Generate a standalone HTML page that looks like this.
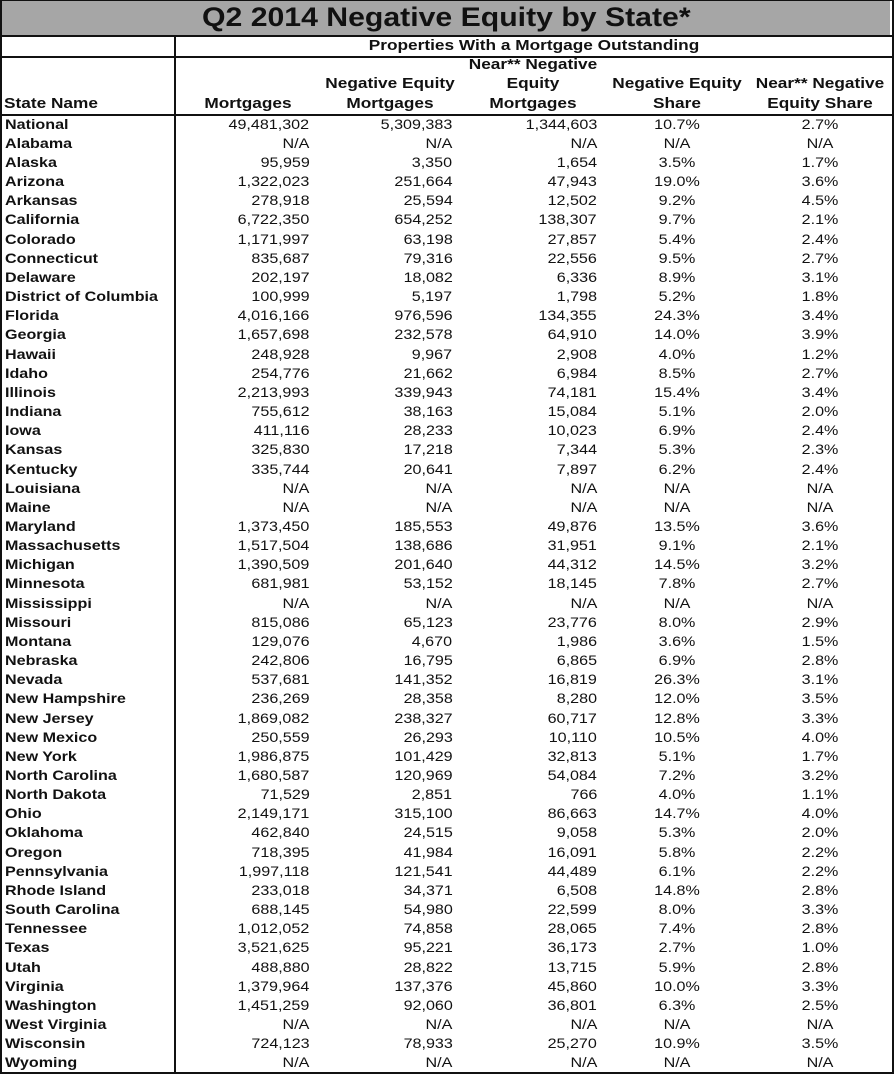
<!DOCTYPE html>
<html>
<head>
<meta charset="utf-8">
<style>
  html, body { margin:0; padding:0; background:#fff; }
  body { width:894px; height:1076px; position:relative; overflow:hidden;
         font-family:"Liberation Sans", Arial, sans-serif; color:#111; }
  .box { position:absolute; left:0; top:0; width:890px; height:1071px; border:2px solid #111; border-top-width:1px; }
  .title { position:absolute; left:2px; top:1px; width:888px; height:34px; background:#a6a6a6; }
  .hl { position:absolute; background:#111; }
  .tt { position:absolute; left:0; top:0; width:892px; height:35px; line-height:35px; text-align:center;
        font-weight:bold; font-size:26.5px; }
  .tt span { display:inline-block; transform:scaleX(1.14); transform-origin:center; }
  .h { position:absolute; width:240px; height:19px; line-height:19px; font-size:15px; font-weight:bold;
       text-align:center; white-space:nowrap; transform:scaleX(1.15); transform-origin:center; }
  .hl2 { position:absolute; height:19px; line-height:19px; font-size:15px; font-weight:bold; white-space:nowrap;
         transform:scaleX(1.15); transform-origin:left center; }
  #d { position:absolute; left:0; top:114.7px; width:894px; }
  .r { position:relative; height:19.16px; line-height:19.16px; font-size:14px; white-space:nowrap; }
  .r b, .r i { position:absolute; top:0; font-style:normal; display:block; }
  .r b { left:4.5px; font-weight:bold; transform:scaleX(1.15); transform-origin:left center; }
  .r i { transform:scaleX(1.15); }
  .r .a { right:584.5px; transform-origin:right center; }
  .r .b { right:441.5px; transform-origin:right center; }
  .r .c { right:297px; transform-origin:right center; }
  .r .d { left:577px; width:200px; text-align:center; transform-origin:center; }
  .r .e { left:720px; width:200px; text-align:center; transform-origin:center; }
</style>
</head>
<body>
<div class="title"></div>
<div class="box"></div>
<div class="tt"><span>Q2 2014 Negative Equity by State*</span></div>
<div class="hl" style="left:0;top:34.5px;width:892px;height:2px;"></div>
<div class="hl" style="left:174px;top:55.5px;width:718px;height:2px;"></div>
<div class="hl" style="left:0;top:55.5px;width:176px;height:2px;"></div>
<div class="hl" style="left:0;top:113.5px;width:892px;height:2px;"></div>
<div class="hl" style="left:174px;top:35px;width:2px;height:1038px;"></div>

<div class="h" style="left:233.5px;top:36px;width:600px;">Properties With a Mortgage Outstanding</div>

<div class="h" style="left:413px;top:55.3px;">Near** Negative</div>

<div class="h" style="left:270px;top:74.3px;">Negative Equity</div>
<div class="h" style="left:413px;top:74.3px;">Equity</div>
<div class="h" style="left:557px;top:74.3px;">Negative Equity</div>
<div class="h" style="left:700px;top:74.3px;">Near** Negative</div>

<div class="hl2" style="left:4px;top:93.6px;">State Name</div>
<div class="h" style="left:127.5px;top:93.6px;">Mortgages</div>
<div class="h" style="left:270px;top:93.6px;">Mortgages</div>
<div class="h" style="left:413px;top:93.6px;">Mortgages</div>
<div class="h" style="left:557px;top:93.6px;">Share</div>
<div class="h" style="left:700px;top:93.6px;">Equity Share</div>

<div id="d">
<div class="r"><b>National</b><i class="a">49,481,302</i><i class="b">5,309,383</i><i class="c">1,344,603</i><i class="d">10.7%</i><i class="e">2.7%</i></div>
<div class="r"><b>Alabama</b><i class="a">N/A</i><i class="b">N/A</i><i class="c">N/A</i><i class="d">N/A</i><i class="e">N/A</i></div>
<div class="r"><b>Alaska</b><i class="a">95,959</i><i class="b">3,350</i><i class="c">1,654</i><i class="d">3.5%</i><i class="e">1.7%</i></div>
<div class="r"><b>Arizona</b><i class="a">1,322,023</i><i class="b">251,664</i><i class="c">47,943</i><i class="d">19.0%</i><i class="e">3.6%</i></div>
<div class="r"><b>Arkansas</b><i class="a">278,918</i><i class="b">25,594</i><i class="c">12,502</i><i class="d">9.2%</i><i class="e">4.5%</i></div>
<div class="r"><b>California</b><i class="a">6,722,350</i><i class="b">654,252</i><i class="c">138,307</i><i class="d">9.7%</i><i class="e">2.1%</i></div>
<div class="r"><b>Colorado</b><i class="a">1,171,997</i><i class="b">63,198</i><i class="c">27,857</i><i class="d">5.4%</i><i class="e">2.4%</i></div>
<div class="r"><b>Connecticut</b><i class="a">835,687</i><i class="b">79,316</i><i class="c">22,556</i><i class="d">9.5%</i><i class="e">2.7%</i></div>
<div class="r"><b>Delaware</b><i class="a">202,197</i><i class="b">18,082</i><i class="c">6,336</i><i class="d">8.9%</i><i class="e">3.1%</i></div>
<div class="r"><b>District of Columbia</b><i class="a">100,999</i><i class="b">5,197</i><i class="c">1,798</i><i class="d">5.2%</i><i class="e">1.8%</i></div>
<div class="r"><b>Florida</b><i class="a">4,016,166</i><i class="b">976,596</i><i class="c">134,355</i><i class="d">24.3%</i><i class="e">3.4%</i></div>
<div class="r"><b>Georgia</b><i class="a">1,657,698</i><i class="b">232,578</i><i class="c">64,910</i><i class="d">14.0%</i><i class="e">3.9%</i></div>
<div class="r"><b>Hawaii</b><i class="a">248,928</i><i class="b">9,967</i><i class="c">2,908</i><i class="d">4.0%</i><i class="e">1.2%</i></div>
<div class="r"><b>Idaho</b><i class="a">254,776</i><i class="b">21,662</i><i class="c">6,984</i><i class="d">8.5%</i><i class="e">2.7%</i></div>
<div class="r"><b>Illinois</b><i class="a">2,213,993</i><i class="b">339,943</i><i class="c">74,181</i><i class="d">15.4%</i><i class="e">3.4%</i></div>
<div class="r"><b>Indiana</b><i class="a">755,612</i><i class="b">38,163</i><i class="c">15,084</i><i class="d">5.1%</i><i class="e">2.0%</i></div>
<div class="r"><b>Iowa</b><i class="a">411,116</i><i class="b">28,233</i><i class="c">10,023</i><i class="d">6.9%</i><i class="e">2.4%</i></div>
<div class="r"><b>Kansas</b><i class="a">325,830</i><i class="b">17,218</i><i class="c">7,344</i><i class="d">5.3%</i><i class="e">2.3%</i></div>
<div class="r"><b>Kentucky</b><i class="a">335,744</i><i class="b">20,641</i><i class="c">7,897</i><i class="d">6.2%</i><i class="e">2.4%</i></div>
<div class="r"><b>Louisiana</b><i class="a">N/A</i><i class="b">N/A</i><i class="c">N/A</i><i class="d">N/A</i><i class="e">N/A</i></div>
<div class="r"><b>Maine</b><i class="a">N/A</i><i class="b">N/A</i><i class="c">N/A</i><i class="d">N/A</i><i class="e">N/A</i></div>
<div class="r"><b>Maryland</b><i class="a">1,373,450</i><i class="b">185,553</i><i class="c">49,876</i><i class="d">13.5%</i><i class="e">3.6%</i></div>
<div class="r"><b>Massachusetts</b><i class="a">1,517,504</i><i class="b">138,686</i><i class="c">31,951</i><i class="d">9.1%</i><i class="e">2.1%</i></div>
<div class="r"><b>Michigan</b><i class="a">1,390,509</i><i class="b">201,640</i><i class="c">44,312</i><i class="d">14.5%</i><i class="e">3.2%</i></div>
<div class="r"><b>Minnesota</b><i class="a">681,981</i><i class="b">53,152</i><i class="c">18,145</i><i class="d">7.8%</i><i class="e">2.7%</i></div>
<div class="r"><b>Mississippi</b><i class="a">N/A</i><i class="b">N/A</i><i class="c">N/A</i><i class="d">N/A</i><i class="e">N/A</i></div>
<div class="r"><b>Missouri</b><i class="a">815,086</i><i class="b">65,123</i><i class="c">23,776</i><i class="d">8.0%</i><i class="e">2.9%</i></div>
<div class="r"><b>Montana</b><i class="a">129,076</i><i class="b">4,670</i><i class="c">1,986</i><i class="d">3.6%</i><i class="e">1.5%</i></div>
<div class="r"><b>Nebraska</b><i class="a">242,806</i><i class="b">16,795</i><i class="c">6,865</i><i class="d">6.9%</i><i class="e">2.8%</i></div>
<div class="r"><b>Nevada</b><i class="a">537,681</i><i class="b">141,352</i><i class="c">16,819</i><i class="d">26.3%</i><i class="e">3.1%</i></div>
<div class="r"><b>New Hampshire</b><i class="a">236,269</i><i class="b">28,358</i><i class="c">8,280</i><i class="d">12.0%</i><i class="e">3.5%</i></div>
<div class="r"><b>New Jersey</b><i class="a">1,869,082</i><i class="b">238,327</i><i class="c">60,717</i><i class="d">12.8%</i><i class="e">3.3%</i></div>
<div class="r"><b>New Mexico</b><i class="a">250,559</i><i class="b">26,293</i><i class="c">10,110</i><i class="d">10.5%</i><i class="e">4.0%</i></div>
<div class="r"><b>New York</b><i class="a">1,986,875</i><i class="b">101,429</i><i class="c">32,813</i><i class="d">5.1%</i><i class="e">1.7%</i></div>
<div class="r"><b>North Carolina</b><i class="a">1,680,587</i><i class="b">120,969</i><i class="c">54,084</i><i class="d">7.2%</i><i class="e">3.2%</i></div>
<div class="r"><b>North Dakota</b><i class="a">71,529</i><i class="b">2,851</i><i class="c">766</i><i class="d">4.0%</i><i class="e">1.1%</i></div>
<div class="r"><b>Ohio</b><i class="a">2,149,171</i><i class="b">315,100</i><i class="c">86,663</i><i class="d">14.7%</i><i class="e">4.0%</i></div>
<div class="r"><b>Oklahoma</b><i class="a">462,840</i><i class="b">24,515</i><i class="c">9,058</i><i class="d">5.3%</i><i class="e">2.0%</i></div>
<div class="r"><b>Oregon</b><i class="a">718,395</i><i class="b">41,984</i><i class="c">16,091</i><i class="d">5.8%</i><i class="e">2.2%</i></div>
<div class="r"><b>Pennsylvania</b><i class="a">1,997,118</i><i class="b">121,541</i><i class="c">44,489</i><i class="d">6.1%</i><i class="e">2.2%</i></div>
<div class="r"><b>Rhode Island</b><i class="a">233,018</i><i class="b">34,371</i><i class="c">6,508</i><i class="d">14.8%</i><i class="e">2.8%</i></div>
<div class="r"><b>South Carolina</b><i class="a">688,145</i><i class="b">54,980</i><i class="c">22,599</i><i class="d">8.0%</i><i class="e">3.3%</i></div>
<div class="r"><b>Tennessee</b><i class="a">1,012,052</i><i class="b">74,858</i><i class="c">28,065</i><i class="d">7.4%</i><i class="e">2.8%</i></div>
<div class="r"><b>Texas</b><i class="a">3,521,625</i><i class="b">95,221</i><i class="c">36,173</i><i class="d">2.7%</i><i class="e">1.0%</i></div>
<div class="r"><b>Utah</b><i class="a">488,880</i><i class="b">28,822</i><i class="c">13,715</i><i class="d">5.9%</i><i class="e">2.8%</i></div>
<div class="r"><b>Virginia</b><i class="a">1,379,964</i><i class="b">137,376</i><i class="c">45,860</i><i class="d">10.0%</i><i class="e">3.3%</i></div>
<div class="r"><b>Washington</b><i class="a">1,451,259</i><i class="b">92,060</i><i class="c">36,801</i><i class="d">6.3%</i><i class="e">2.5%</i></div>
<div class="r"><b>West Virginia</b><i class="a">N/A</i><i class="b">N/A</i><i class="c">N/A</i><i class="d">N/A</i><i class="e">N/A</i></div>
<div class="r"><b>Wisconsin</b><i class="a">724,123</i><i class="b">78,933</i><i class="c">25,270</i><i class="d">10.9%</i><i class="e">3.5%</i></div>
<div class="r"><b>Wyoming</b><i class="a">N/A</i><i class="b">N/A</i><i class="c">N/A</i><i class="d">N/A</i><i class="e">N/A</i></div>
</div>
</body>
</html>
